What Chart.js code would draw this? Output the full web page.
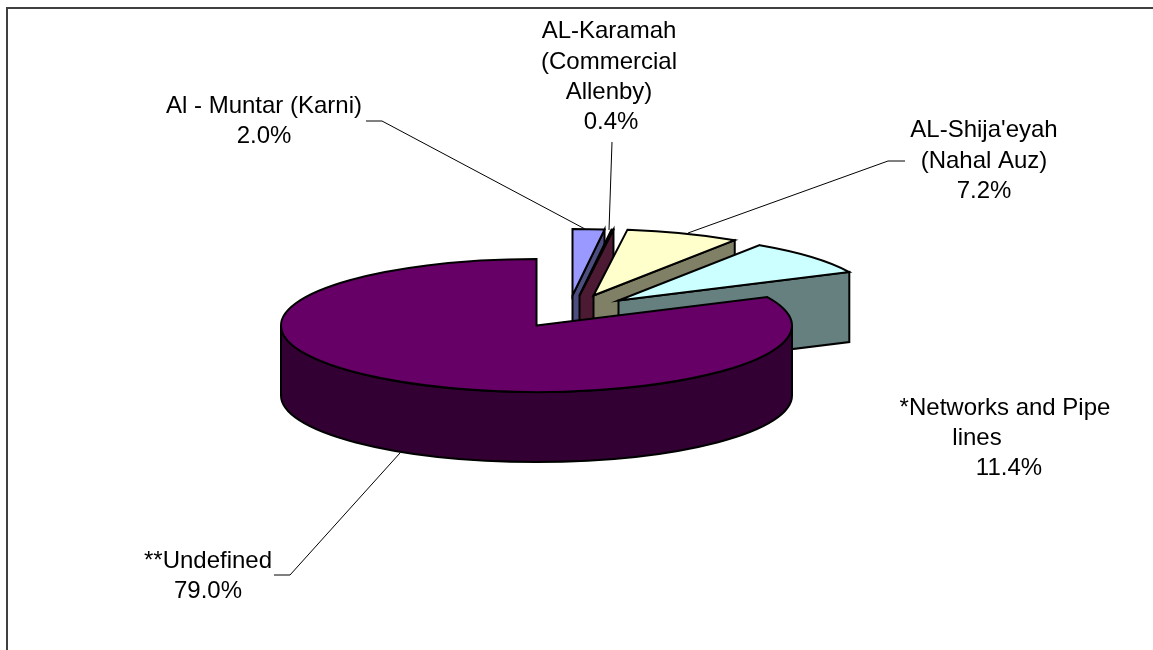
<!DOCTYPE html>
<html>
<head>
<meta charset="utf-8">
<title>Pie</title>
<script src="https://cdn.jsdelivr.net/npm/chart.js@4/dist/chart.umd.min.js"></script>
<style>
  html, body { margin:0; padding:0; background:#fff; }
  #wrap { position:relative; width:1153px; height:650px; overflow:hidden; }
</style>
</head>
<body>
<div id="wrap"><canvas id="pie" width="1153" height="650"></canvas></div>
<script>
const categories = ['Al - Muntar (Karni)', 'AL-Karamah (Commercial Allenby)', "AL-Shija'eyah (Nahal Auz)", '*Networks and Pipe lines', '**Undefined'];
const shares = [2.0, 0.4, 7.2, 11.4, 79.0];
const labelLines = [
  ['Al - Muntar (Karni)', '2.0%'],
  ['AL-Karamah', '(Commercial', 'Allenby)', '0.4%'],
  ["AL-Shija'eyah", '(Nahal Auz)', '7.2%'],
  ['*Networks and Pipe', 'lines', '11.4%'],
  ['**Undefined', '79.0%']
];

// look of the slices
const topColors = ['#9999ff', '#993366', '#ffffcc', '#ccffff', '#660066'];
const sideColors = ['#4d4d80', '#4d1a33', '#808066', '#668080', '#330033'];
const explode = [[36,-30], [43,-30], [57,-30], [82,-25], [0,0]];   // px each slice is pulled out
const tilt = 0.26, depth = 70;
// the reference draws the networks slice narrower than its share, so its edges get nudged (deg)
const edgeNudge = [0, 0, -1, -1, -11, 0];

// label placement: per line x centre + baseline, and the leader line
const labelPos = [
  [[264,113], [264,143]],
  [[609,38], [609,69], [609,99], [611,129]],
  [[984,137], [984,168], [984,198]],
  [[1005,415], [977,445], [1009,475]],
  [[208,568], [208,598]]
];
const leaders = [
  [[366,121], [382,121], [585,229]],
  [[612,142], [609,230]],
  [[905,161], [888,161], [688,233]],
  [],
  [[274,575], [290,575], [400,453]]
];

const rad = d => d * Math.PI / 180;

function drawSlice(ctx, arc, i){
  const a0 = arc.startAngle + rad(edgeNudge[i]);
  const a1 = arc.endAngle + rad(edgeNudge[i+1]);
  const R = arc.outerRadius, r = R * tilt;
  const cx = arc.x + explode[i][0], cy = arc.y + explode[i][1];
  const px = a => cx + R * Math.cos(a), py = a => cy + r * Math.sin(a);

  const face = a => {
    ctx.beginPath();
    ctx.moveTo(cx, cy);
    ctx.lineTo(px(a), py(a));
    ctx.lineTo(px(a), py(a) + depth);
    ctx.lineTo(cx, cy + depth);
    ctx.closePath();
    ctx.fill(); ctx.stroke();
  };

  ctx.fillStyle = sideColors[i];
  if(Math.cos(a1) > 0.001) face(a1);
  if(Math.cos(a0) < -0.001) face(a0);

  // outer wall, front half only
  const lo = Math.max(a0, 0), hi = Math.min(a1, Math.PI);
  if(lo < hi){
    ctx.beginPath();
    ctx.ellipse(cx, cy, R, r, 0, lo, hi);
    ctx.ellipse(cx, cy + depth, R, r, 0, hi, lo, true);
    ctx.closePath();
    ctx.fill(); ctx.stroke();
  }

  ctx.fillStyle = topColors[i];
  ctx.beginPath();
  ctx.moveTo(cx, cy);
  ctx.ellipse(cx, cy, R, r, 0, a0, a1);
  ctx.closePath();
  ctx.fill(); ctx.stroke();
}

const pie3d = {
  id:'pie3d',
  beforeDatasetDraw(chart, args){
    const ctx = chart.ctx;
    ctx.save();
    ctx.strokeStyle = '#000';
    ctx.lineWidth = 2;
    ctx.lineJoin = 'miter';
    args.meta.data.forEach((arc, i) => drawSlice(ctx, arc, i));
    ctx.restore();
    return false;
  },
  afterDraw(chart){
    const ctx = chart.ctx;
    ctx.save();
    // frame: only top and left show
    ctx.strokeStyle = '#404040';
    ctx.lineWidth = 2;
    ctx.beginPath();
    ctx.moveTo(7, 650); ctx.lineTo(7, 8); ctx.lineTo(1153, 8);
    ctx.stroke();

    ctx.strokeStyle = '#000';
    ctx.lineWidth = 1;
    leaders.forEach(pts => {
      if(!pts.length) return;
      ctx.beginPath();
      pts.forEach((p, k) => k ? ctx.lineTo(p[0], p[1]) : ctx.moveTo(p[0], p[1]));
      ctx.stroke();
    });

    ctx.fillStyle = '#000';
    ctx.font = '24px "Liberation Sans", Arial, sans-serif';
    ctx.textAlign = 'center';
    ctx.textBaseline = 'alphabetic';
    labelLines.forEach((lines, i) => {
      lines.forEach((t, k) => ctx.fillText(t, labelPos[i][k][0], labelPos[i][k][1]));
    });
    ctx.restore();
  }
};

new Chart(document.getElementById('pie'), {
  type:'pie',
  data:{ labels:categories, datasets:[{ data:shares, backgroundColor:topColors, radius:255.5 }] },
  options:{
    responsive:false, animation:false,
    layout:{ padding:{ left:0, right:80, top:1, bottom:0 } },
    plugins:{ legend:{ display:false }, tooltip:{ enabled:false } }
  },
  plugins:[pie3d]
});
</script>
</body>
</html>
